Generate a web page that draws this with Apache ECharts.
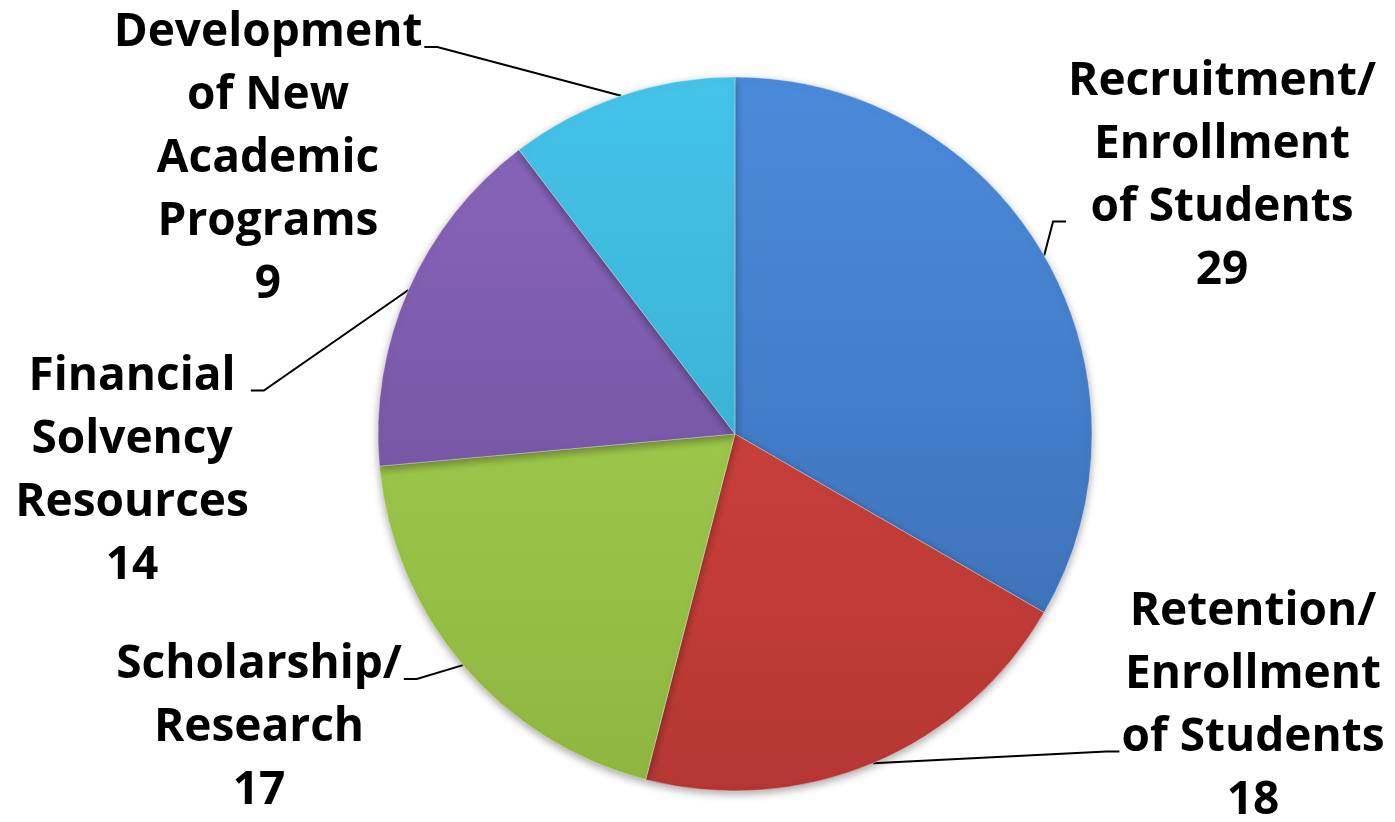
<!DOCTYPE html>
<html>
<head>
<meta charset="utf-8">
<script src="https://cdn.jsdelivr.net/npm/echarts@6/dist/echarts.min.js"></script>
<style>
html,body{margin:0;padding:0;background:#fff;}
#chart{width:1395px;height:822px;}
</style>
</head>
<body>
<div id="chart"></div>
<script>
// ---- data ----
var categories = [
  'Recruitment/\nEnrollment\nof Students',
  'Retention/\nEnrollment\nof Students',
  'Scholarship/\nResearch',
  'Financial\nSolvency\nResources',
  'Development\nof New\nAcademic\nPrograms'
];
var values = [29, 18, 17, 14, 9];

// ---- styles ----
var palette = [
  ['#4b8bdb', '#3a6cb0'],
  ['#dc4842', '#b53733'],
  ['#a8d654', '#8fb640'],
  ['#8a66bd', '#6a4b93'],
  ['#45c3e8', '#2fa5c6']
];
var labelPos = [
  {x: 1222, y: 176, side: 'left',  line: 2},
  {x: 1253, y: 706, side: 'left',  line: 2},
  {x: 259,  y: 728, side: 'right', line: 0},
  {x: 132,  y: 471, side: 'right', line: 0},
  {x: 268,  y: 159, side: 'right', line: 0}
];
var LH = 63;

var chart = echarts.init(document.getElementById('chart'));
var data = categories.map(function (c, i) {
  return {
    name: c,
    value: values[i],
    itemStyle: {
      color: {
        type: 'linear', x: 0, y: 78, x2: 0, y2: 792, global: true,
        colorStops: [{offset: 0, color: palette[i][0]}, {offset: 1, color: palette[i][1]}]
      }
    }
  };
});

chart.setOption({
  animation: false,
  series: [{
    type: 'pie',
    center: [735, 434],
    radius: 357,
    startAngle: 90,
    clockwise: true,
    avoidLabelOverlap: false,
    data: data,
    itemStyle: {
      borderColor: 'rgba(255,255,255,0.35)',
      borderWidth: 1,
      shadowBlur: 8,
      shadowColor: 'rgba(0,0,0,0.35)',
      shadowOffsetY: 3
    },
    label: {
      show: true,
      position: 'outside',
      formatter: '{b}\n{c}',
      color: '#000',
      fontFamily: 'Open Sans',
      fontWeight: 'bold',
      fontSize: 46,
      lineHeight: LH,
      align: 'center'
    },
    labelLine: {
      show: true,
      length: 20,
      length2: 10,
      lineStyle: {color: '#000', width: 2}
    },
    labelLayout: function (p) {
      var lp = labelPos[p.dataIndex];
      var w = p.labelRect.width, h = p.labelRect.height;
      var left = lp.x - w / 2, top = lp.y - h / 2;
      var ay = top + lp.line * LH + LH / 2 + 14;
      var ax = lp.side === 'left' ? left - 2 : left + w + 2;
      var bx = lp.side === 'left' ? ax - 13 : ax + 13;
      var start = p.labelLinePoints ? p.labelLinePoints[0] : [ax, ay];
      return {
        x: lp.x,
        y: lp.y,
        align: 'center',
        verticalAlign: 'middle',
        labelLinePoints: [start, [bx, ay], [ax, ay]]
      };
    }
  }]
});
</script>
</body>
</html>
